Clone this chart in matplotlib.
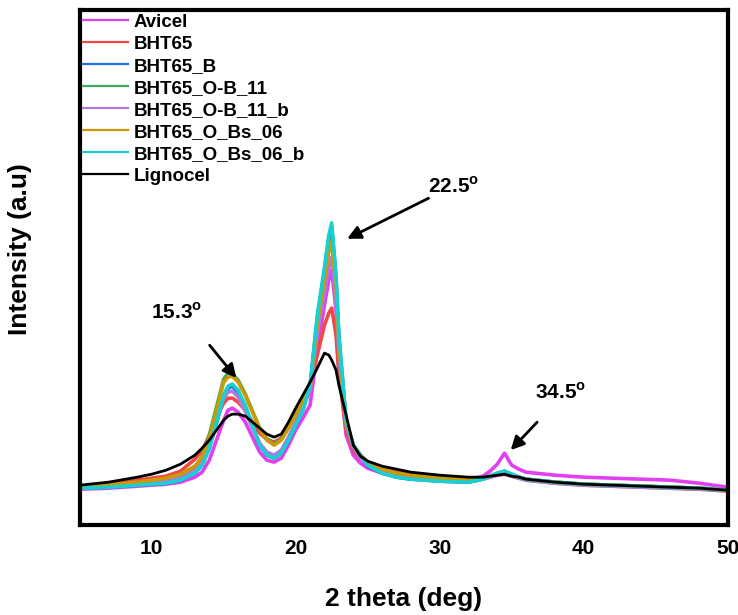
import numpy as np
import matplotlib
matplotlib.use("Agg")
from matplotlib import pyplot as plt

plt.rcParams['font.family'] = ['Liberation Sans', 'DejaVu Sans']
plt.rcParams['font.weight'] = 'bold'
plt.rcParams['mathtext.fontset'] = 'custom'
plt.rcParams['mathtext.rm'] = 'Liberation Sans'
plt.rcParams['mathtext.bf'] = 'Liberation Sans:bold'

# 2 theta grid (deg) and intensities (a.u.)
two_theta = [5, 7, 9, 10, 11, 12, 13, 13.5, 14, 14.5, 15, 15.3, 15.6, 16, 16.5, 17, 17.5,
             18, 18.5, 19, 19.5, 20, 20.5, 21, 21.5, 22, 22.3, 22.5, 22.8, 23, 23.5, 24,
             24.5, 25, 26, 27, 28, 30, 32, 33, 33.5, 34, 34.5, 35, 35.5, 36, 38, 40, 42,
             44, 46, 48, 50]

avicel = [36, 37, 39, 40, 41, 43, 48, 53, 65, 85, 105, 115, 117, 113, 103, 88, 73,
          65, 63, 67, 80, 95, 107, 120, 175, 220, 245, 255, 215, 160, 90, 70,
          62, 57, 52, 49, 47, 45, 45, 49, 54, 61, 72, 60, 56, 53, 50, 48, 47,
          46, 45, 42, 38]
bht65 = [38, 41, 45, 47, 49, 54, 66, 74, 90, 108, 122, 127, 127, 123, 115, 103, 92,
         86, 83, 87, 99, 113, 127, 140, 170, 200, 212, 217, 190, 150, 95, 75,
         67, 62, 57, 54, 51, 48, 47, 47, 48, 50, 51, 49, 47, 45, 42, 40, 39,
         38, 37, 36, 34]
bht65_b = [37, 38, 40, 41, 42, 45, 52, 60, 77, 102, 128, 137, 139, 133, 118, 99, 80,
           70, 67, 72, 85, 100, 115, 139, 207, 255, 287, 298, 247, 188, 104, 80,
           69, 59, 52, 48, 46, 44, 43, 46, 49, 52, 54, 51, 48, 46, 43, 41, 40,
           39, 38, 37, 35]
bht65_ob11 = [38, 40, 42, 44, 46, 50, 58, 68, 90, 118, 146, 152, 151, 145, 131, 114, 97,
              86, 81, 86, 98, 111, 126, 139, 202, 248, 277, 287, 240, 183, 103, 80,
              70, 63, 56, 52, 50, 47, 46, 47, 49, 51, 52, 50, 48, 46, 43, 41, 40,
              39, 38, 37, 35]
bht65_ob11_b = [37, 38, 41, 42, 44, 47, 54, 62, 80, 105, 127, 133, 134, 128, 114, 97, 82,
                73, 70, 75, 88, 103, 118, 135, 192, 232, 258, 268, 225, 172, 100, 78,
                68, 60, 54, 50, 48, 46, 45, 46, 48, 50, 51, 49, 47, 45, 42, 40, 39,
                38, 37, 36, 35]
bht65_obs06 = [38, 40, 43, 45, 47, 51, 59, 68, 87, 115, 143, 148, 149, 143, 130, 113, 96,
               85, 80, 85, 97, 110, 125, 138, 200, 245, 273, 283, 237, 180, 102, 80,
               70, 63, 56, 52, 50, 47, 46, 47, 49, 51, 52, 50, 48, 46, 43, 41, 40,
               39, 38, 37, 35]
bht65_obs06_b = [37, 38, 40, 41, 42, 45, 52, 60, 77, 103, 130, 139, 141, 135, 120, 100, 80,
                 70, 67, 72, 85, 100, 115, 140, 210, 258, 290, 302, 250, 190, 105, 80,
                 70, 60, 52, 48, 46, 44, 43, 46, 49, 52, 54, 51, 48, 46, 43, 41, 40,
                 39, 38, 37, 35]
lignocel = [40, 43, 48, 51, 55, 61, 70, 77, 85, 95, 105, 109, 111, 111, 109, 103, 97,
            91, 88, 91, 103, 117, 130, 143, 157, 172, 170, 165, 155, 140, 110, 80,
            69, 64, 59, 56, 53, 50, 48, 48, 49, 50, 51, 49, 48, 46, 43, 41, 40,
            39, 38, 37, 35]

names = ['Avicel', 'BHT65', 'BHT65_B', 'BHT65_O-B_11', 'BHT65_O-B_11_b',
         'BHT65_O_Bs_06', 'BHT65_O_Bs_06_b', 'Lignocel']
series = [avicel, bht65, bht65_b, bht65_ob11, bht65_ob11_b,
          bht65_obs06, bht65_obs06_b, lignocel]
colors = ['#e040f0', '#f04848', '#2070e0', '#40a860', '#b078e0',
          '#cc9a00', '#18d0d0', '#000000']

fig = plt.figure(figsize=(7.38, 6.15), dpi=100)
ax = fig.add_axes([0.108, 0.146, 0.878, 0.838])

for name, y, c in zip(names, series, colors):
    ax.plot(two_theta, y, color=c, lw=2.6 if c != '#000000' else 2.0, label=name)

ax.set_xlim(5, 50)
ax.set_ylim(0, 515)
ax.set_xticks([10, 20, 30, 40, 50])
ax.set_yticks([])
ax.tick_params(axis='x', length=0, pad=10, labelsize=15)
for lab in ax.get_xticklabels():
    lab.set_fontweight('bold')
for s in ax.spines.values():
    s.set_linewidth(3)

ax.set_xlabel('2 theta (deg)', fontsize=19, fontweight='bold', labelpad=21)
ax.set_ylabel('Intensity (a.u)', fontsize=19, fontweight='bold')
ax.yaxis.set_label_coords(-0.074, 0.536)

# peak annotations
arrow = dict(arrowstyle='-|>', lw=2, color='black', mutation_scale=20)
ax.annotate('', xy=(16.0, 145), xytext=(13.9, 182), arrowprops=arrow)
ax.text(11.7, 213, r'15.3$^\mathbf{o}$', fontsize=15, fontweight='bold', ha='center', va='center')
ax.annotate('', xy=(23.4, 285), xytext=(29.4, 328), arrowprops=arrow)
ax.text(31.0, 339, r'22.5$^\mathbf{o}$', fontsize=15, fontweight='bold', ha='center', va='center')
ax.annotate('', xy=(34.8, 73), xytext=(36.9, 105), arrowprops=arrow)
ax.text(38.4, 133, r'34.5$^\mathbf{o}$', fontsize=15, fontweight='bold', ha='center', va='center')

leg = ax.legend(loc='upper left', bbox_to_anchor=(0.0, 1.0), frameon=False,
                prop={'weight': 'bold', 'size': 13.5}, handlelength=2.4,
                handletextpad=0.28, labelspacing=0.26, borderaxespad=0.1,
                borderpad=0.1)
for h in leg.get_lines():
    h.set_linewidth(1.6)

fig.savefig('out.png', dpi=100)
